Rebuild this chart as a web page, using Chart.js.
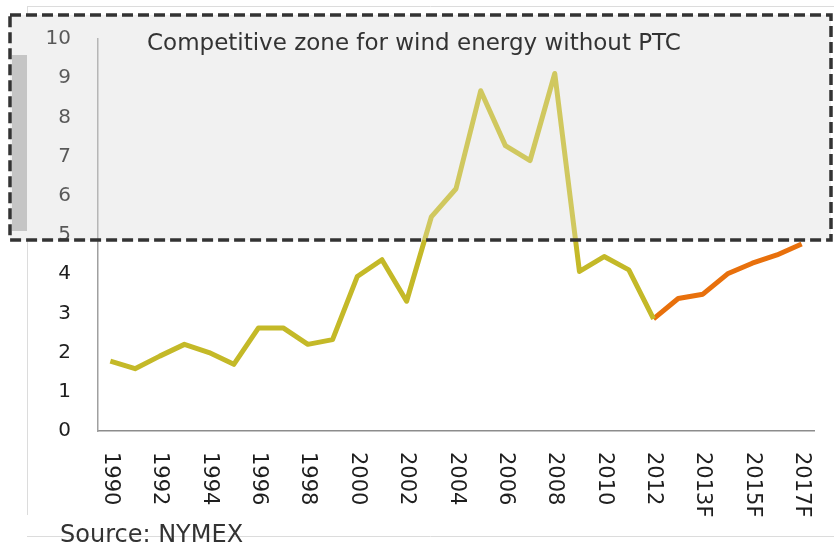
<!DOCTYPE html>
<html>
<head>
<meta charset="utf-8">
<script src="https://cdn.jsdelivr.net/npm/chart.js@4"></script>
<style>
  body { margin: 0; background: #fff; }
  canvas { display: block; }
</style>
</head>
<body>
<canvas id="priceChart" width="834" height="547"></canvas>
<script>
// years on the x axis (forecast years end with F)
const years = ['1990', '1991', '1992', '1993', '1994', '1995', '1996', '1997', '1998', '1999',
  '2000', '2001', '2002', '2003', '2004', '2005', '2006', '2007', '2008', '2009',
  '2010', '2011', '2012', '2012F', '2013F', '2014F', '2015F', '2016F', '2017F'];

// natural gas price, 1990-2012
const history = [1.78, 1.59, 1.91, 2.21, 2.0, 1.70, 2.63, 2.63, 2.21, 2.33,
  3.94, 4.37, 3.31, 5.46, 6.18, 8.68, 7.28, 6.90, 9.12, 4.07,
  4.45, 4.11, 2.86];

// futures, from 2012 on
const forecast = [2.86, 3.38, 3.49, 4.01, 4.28, 4.49, 4.77];

const yTicks = [0, 1, 2, 3, 4, 5, 6, 7, 8, 9, 10];
const zoneFloor = 4.87;
const zoneLabel = 'Competitive zone for wind energy without PTC';
const sourceLabel = 'Source: NYMEX';

const histData = years.map((y, i) => i < history.length ? history[i] : null);
const foreStart = history.length - 1;
const foreData = years.map((y, i) => i >= foreStart ? forecast[i - foreStart] : null);

const FONT = '"DejaVu Sans", sans-serif';

const zonePlugin = {
  id: 'zone',
  beforeDraw(chart) {
    const ctx = chart.ctx;
    const y = chart.scales.y;
    const bottom = y.getPixelForValue(zoneFloor);
    ctx.save();
    // faint page frame
    ctx.strokeStyle = '#dcdcdc';
    ctx.lineWidth = 1;
    ctx.beginPath();
    ctx.moveTo(27, 6.5); ctx.lineTo(834, 6.5);
    ctx.moveTo(27.5, 6.5); ctx.lineTo(27.5, 515);
    ctx.moveTo(27, 536.5); ctx.lineTo(834, 536.5);
    ctx.stroke();
    ctx.fillStyle = '#f1f1f1';
    ctx.fillRect(10, 15, 821, bottom - 15);
    ctx.fillStyle = '#b4b4b4';
    ctx.fillRect(12, 55, 15, 176);
    ctx.restore();
  },
  afterDatasetsDraw(chart) {
    const ctx = chart.ctx;
    const y = chart.scales.y;
    const bottom = y.getPixelForValue(zoneFloor);
    ctx.save();
    ctx.fillStyle = 'rgba(241,241,241,0.28)';
    ctx.fillRect(10, 15, 821, bottom - 15);
    ctx.setLineDash([11, 5]);
    ctx.lineWidth = 3.5;
    ctx.strokeStyle = '#333';
    ctx.strokeRect(10, 15, 821, bottom - 15);
    ctx.setLineDash([]);
    ctx.fillStyle = '#333';
    ctx.font = '23px ' + FONT;
    ctx.textBaseline = 'alphabetic';
    ctx.fillText(zoneLabel, 147, 50);
    ctx.restore();
  },
  afterDraw(chart) {
    const ctx = chart.ctx;
    const x = chart.scales.x;
    ctx.save();
    ctx.fillStyle = '#1e1e1e';
    ctx.font = '21px ' + FONT;
    ctx.textAlign = 'left';
    ctx.textBaseline = 'middle';
    years.forEach((label, i) => {
      if (i % 2) return;
      ctx.save();
      ctx.translate(x.getPixelForValue(i), x.bottom - 95);
      ctx.rotate(Math.PI / 2);
      ctx.fillText(label, 0, 0);
      ctx.restore();
    });
    ctx.fillStyle = '#333';
    ctx.font = '24px ' + FONT;
    ctx.textBaseline = 'alphabetic';
    ctx.fillText(sourceLabel, 60, 542);
    ctx.restore();
  }
};

new Chart(document.getElementById('priceChart'), {
  type: 'line',
  data: {
    labels: years,
    datasets: [{
      data: histData,
      borderColor: '#c4b928',
      borderWidth: 5,
      pointRadius: 0,
      tension: 0,
      borderJoinStyle: 'round',
      spanGaps: false
    }, {
      data: foreData,
      borderColor: '#e8700c',
      borderWidth: 5,
      pointRadius: 0,
      tension: 0,
      borderJoinStyle: 'round',
      spanGaps: false
    }]
  },
  options: {
    responsive: false,
    animation: false,
    layout: { padding: { left: 47, right: 20, top: 37, bottom: 0 } },
    plugins: {
      legend: { display: false },
      tooltip: { enabled: false }
    },
    scales: {
      x: {
        offset: true,
        grid: { display: false, drawTicks: false },
        border: { color: '#8c8c8c', width: 1.5 },
        ticks: { display: false },
        afterFit: s => { s.height = 116; }
      },
      y: {
        min: 0,
        max: 10,
        afterBuildTicks: s => { s.ticks = yTicks.map(v => ({ value: v })); },
        grid: { display: false, drawTicks: false },
        border: { color: '#a0a0a0', width: 1.5 },
        ticks: {
          color: '#1e1e1e',
          padding: 27,
          font: { family: FONT, size: 20 }
        },
        afterFit: s => { s.width = 51; }
      }
    }
  },
  plugins: [zonePlugin]
});
</script>
</body>
</html>
